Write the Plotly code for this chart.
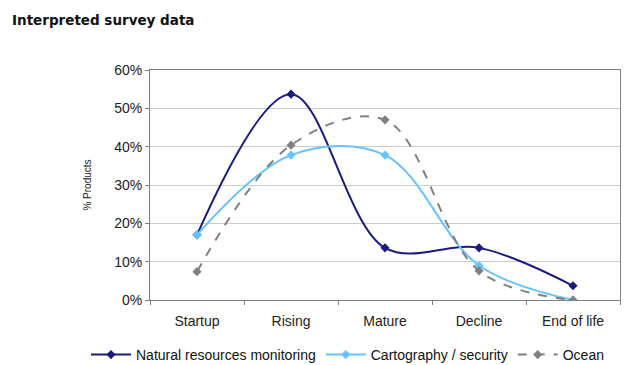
import plotly.graph_objects as go

stages = ["Startup", "Rising", "Mature", "Decline", "End of life"]
natural_resources = [0.17, 0.537, 0.136, 0.136, 0.037]
cartography = [0.17, 0.378, 0.378, 0.09, 0.0]
ocean = [0.074, 0.404, 0.47, 0.076, 0.0]

series = [
    ("Natural resources monitoring", natural_resources, "#1a1a80", "solid"),
    ("Cartography / security", cartography, "#66c3ff", "solid"),
    ("Ocean", ocean, "#808080", "dash"),
]

fig = go.Figure()
for name, vals, color, dash in series:
    fig.add_trace(go.Scatter(
        x=stages, y=vals, name=name, mode="lines+markers",
        line=dict(color=color, width=2, shape="spline", smoothing=1, dash=dash),
        marker=dict(symbol="diamond", size=7, color=color),
    ))

# plot area spans 150..620 px horizontally and 70..300 px vertically
fig.update_layout(
    width=627, height=365,
    margin=dict(l=150, r=7, t=70, b=65, autoexpand=False),
    paper_bgcolor="white", plot_bgcolor="white",
    font=dict(family="Liberation Sans, Arial, sans-serif", size=13, color="#222"),
    title=dict(text="<b>Interpreted survey data</b>", x=12 / 627, xref="container",
               xanchor="left", y=1 - 20 / 365, yref="container", yanchor="middle",
               font=dict(family="DejaVu Sans, sans-serif", size=13.5, color="#111")),
    showlegend=True,
    legend=dict(orientation="h", x=(86 - 150) / 470, xanchor="left", xref="paper",
                y=-(355 - 300) / 230, yanchor="middle", yref="paper",
                font=dict(size=14, color="#111"), tracegroupgap=0, itemwidth=40),
    xaxis=dict(
        tickson="boundaries", ticks="outside", ticklen=4, tickcolor="#808080",
        showline=True, linecolor="#808080", linewidth=1, mirror=True,
        showgrid=False, tickfont=dict(size=14, color="#222"),
        ticklabelstandoff=8,
        range=[-0.5, 4.5],
    ),
    yaxis=dict(
        range=[0, 0.6], dtick=0.1, tickformat=".0%",
        ticks="outside", ticklen=4, tickcolor="#808080",
        showline=True, linecolor="#808080", linewidth=1, mirror=True,
        showgrid=True, gridcolor="#cccccc", gridwidth=1,
        zeroline=False, tickfont=dict(size=14, color="#222"),
        title=dict(text="% Products", font=dict(size=10, color="#222"), standoff=20),
    ),
)

fig.write_html("out.html")
